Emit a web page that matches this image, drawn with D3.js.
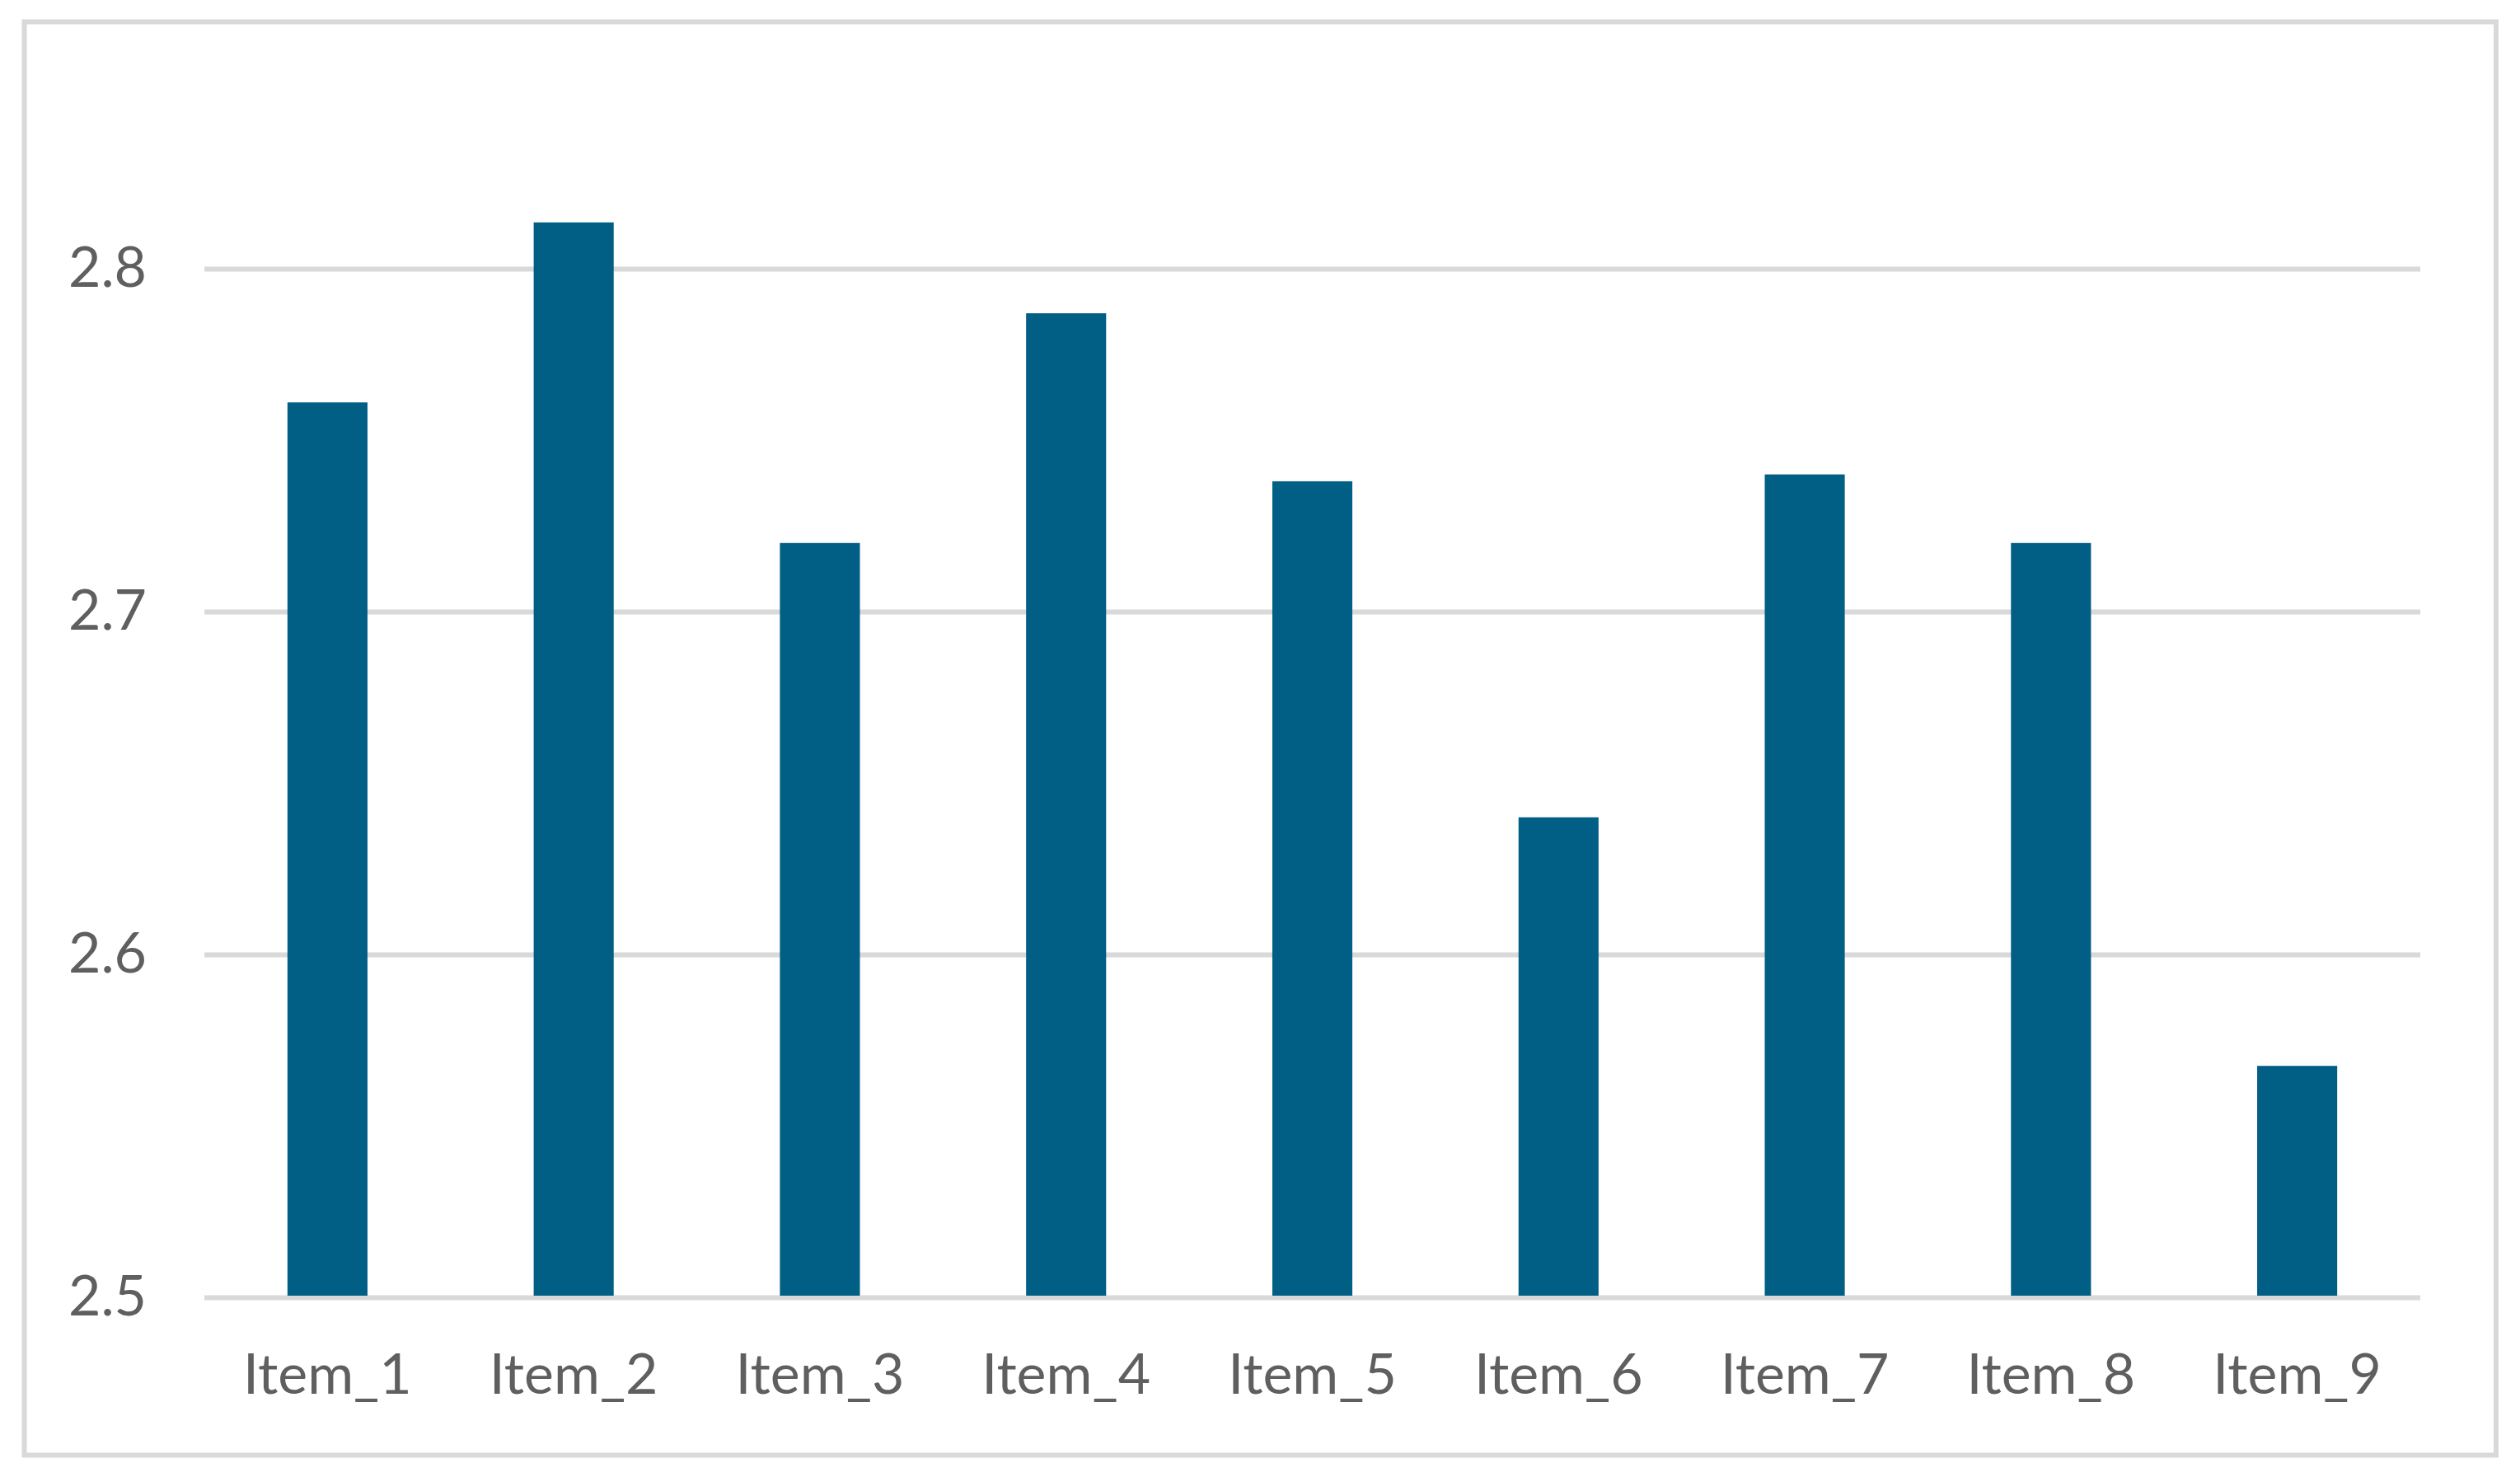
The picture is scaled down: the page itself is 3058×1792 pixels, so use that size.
<!DOCTYPE html>
<html>
<head>
<meta charset="utf-8">
<script src="https://cdn.jsdelivr.net/npm/d3@7/dist/d3.min.js"></script>
<style>
  html, body { margin: 0; padding: 0; background: #ffffff; }
  svg { display: block; }
</style>
</head>
<body>
<div id="chart"></div>
<script>
// data
var categories = ["Item_1", "Item_2", "Item_3", "Item_4", "Item_5", "Item_6", "Item_7", "Item_8", "Item_9"];
var values = [2.761, 2.8135, 2.72, 2.787, 2.738, 2.64, 2.74, 2.72, 2.5675];
var yTicks = [2.5, 2.6, 2.7, 2.8];

var totalWidth = 3058
  , totalHeight = 1792
  , margin = { top: 326, right: 121, bottom: 218, left: 248 }
  , barColor = "#015e85"
  , gridColor = "#d9d9d9"
  , textColor = "#5f5f5f"
  , fontFamily = "Lato, 'Open Sans', sans-serif"
  ;

var width = totalWidth - margin.left - margin.right;
var height = totalHeight - margin.top - margin.bottom;

var root = d3.select("#chart")
  .append("svg")
  .attr("width", totalWidth)
  .attr("height", totalHeight);

// outer frame
root.append("rect")
  .attr("x", 29.5)
  .attr("y", 26.5)
  .attr("width", 3029 - 29.5)
  .attr("height", 1765.5 - 26.5)
  .attr("fill", "#ffffff")
  .attr("stroke", gridColor)
  .attr("stroke-width", 6);

var svg = root.append("g")
  .attr("transform", "translate(" + margin.left + "," + margin.top + ")");

var xScale = d3.scaleBand()
  .domain(categories)
  .range([0, width])
  .paddingInner(0.675)
  .paddingOuter(0.3375);

var yScale = d3.scaleLinear()
  .domain([2.5, 2.8])
  .range([height, 0]);

// y axis + gridlines
var yAxis = d3.axisLeft(yScale)
  .tickValues(yTicks)
  .tickSize(-width)
  .tickPadding(70)
  .tickFormat(d3.format(".1f"));

var gy = svg.append("g")
  .attr("class", "y axis")
  .call(yAxis);

gy.select(".domain").remove();
gy.selectAll(".tick line")
  .attr("stroke", gridColor)
  .attr("stroke-width", 6);
gy.selectAll(".tick text")
  .attr("fill", textColor)
  .attr("font-family", fontFamily)
  .attr("font-size", 68)
  .attr("dy", "0.32em");

// bars
svg.selectAll(".bar")
  .data(values)
  .enter().append("rect")
  .attr("class", "bar")
  .attr("x", function(d, i) { return xScale(categories[i]); })
  .attr("y", function(d) { return yScale(d); })
  .attr("width", xScale.bandwidth())
  .attr("height", function(d) { return height - 2 - yScale(d); })
  .attr("fill", barColor);

// x axis labels
var xAxis = d3.axisBottom(xScale).tickSize(0);

var gx = svg.append("g")
  .attr("class", "x axis")
  .attr("transform", "translate(0," + height + ")")
  .call(xAxis);

gx.select(".domain").remove();
gx.selectAll(".tick text")
  .attr("fill", textColor)
  .attr("font-family", fontFamily)
  .attr("font-size", 68)
  .attr("y", 93)
  .attr("dy", "0.35em");
</script>
</body>
</html>
